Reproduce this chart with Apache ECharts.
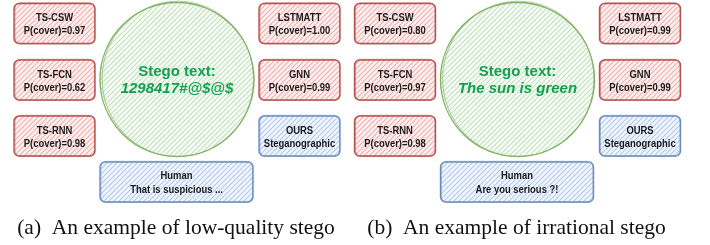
<!DOCTYPE html>
<html>
<head>
<meta charset="utf-8">
<script src="https://cdn.jsdelivr.net/npm/echarts@6/dist/echarts.min.js"></script>
<style>
  html, body { margin: 0; padding: 0; background: #fff; }
  #main { width: 710px; height: 245px; }
</style>
</head>
<body>
<div id="main"></div>
<script>
// data
const captions = ['(a)  An example of low-quality stego', '(b)  An example of irrational stego']
const stegoTexts = ['1298417#@$@$', 'The sun is green']
const baselineModels = ['TS-CSW', 'TS-FCN', 'TS-RNN', 'LSTMATT', 'GNN']
const pCoverLowQuality = [0.97, 0.62, 0.98, 1.00, 0.99]
const pCoverIrrational = [0.80, 0.97, 0.98, 0.99, 0.99]
const oursLabel = ['OURS', 'Steganographic']
const humanReplies = ['That is suspicious ...', 'Are you serious ?!']

// layout (axis units = px)
const panelX = [0, 340.5]
const colX = [54.5, 299.5]
const rowY = [23.5, 80, 136]
const boxW = 81
const boxH = 40
const circle = { x: 177, y: 79.5, r: 77 }
const human = { x: 176.5, y: 182, w: 153, h: 40 }
const captionX = 176
const captionY = 228

const boxFont = '"Liberation Sans", sans-serif'

function hatch(line, bg) {
  const c = document.createElement('canvas')
  c.width = 5
  c.height = 5
  const g = c.getContext('2d')
  g.fillStyle = bg
  g.fillRect(0, 0, 5, 5)
  g.strokeStyle = line
  g.lineWidth = 1.1
  g.beginPath()
  g.moveTo(-1, 6); g.lineTo(6, -1)
  g.moveTo(-1, 1); g.lineTo(1, -1)
  g.moveTo(4, 6); g.lineTo(6, 4)
  g.stroke()
  return { image: c, repeat: 'repeat' }
}

const tones = {
  red: { fill: hatch('#f0aeac', '#fdf1f1'), stroke: '#b85450' },
  blue: { fill: hatch('#b3c9ec', '#f1f6fd'), stroke: '#6c8ebf' },
  green: { fill: hatch('#c4e1c0', '#f7fbf6'), stroke: '#82b366' }
}

const nodes = []
;[pCoverLowQuality, pCoverIrrational].forEach((vals, p) => {
  const ox = panelX[p]
  baselineModels.forEach((name, i) => {
    const col = i < 3 ? 0 : 1
    const row = i < 3 ? i : i - 3
    nodes.push({ kind: 'box', tone: 'red', x: ox + colX[col], y: rowY[row], w: boxW, h: boxH, lh: 13,
      text: name + '\nP(cover)=' + vals[i].toFixed(2) })
  })
  nodes.push({ kind: 'box', tone: 'blue', x: ox + colX[1], y: rowY[2], w: boxW, h: boxH, lh: 13, text: oursLabel.join('\n') })
  nodes.push({ kind: 'circle', x: ox + circle.x, y: circle.y, r: circle.r, text: stegoTexts[p] })
  nodes.push({ kind: 'box', tone: 'blue', x: ox + human.x, y: human.y, w: human.w, h: human.h, lh: 14,
    text: 'Human\n' + humanReplies[p] })
  nodes.push({ kind: 'caption', x: ox + captionX, y: captionY, text: captions[p] })
})

function renderItem(params, api) {
  const n = nodes[api.value(2)]
  const c = api.coord([api.value(0), api.value(1)])
  if (n.kind === 'caption') {
    return {
      type: 'text',
      style: { text: n.text, x: c[0], y: c[1], align: 'center', verticalAlign: 'middle',
        font: '21.5px "Liberation Serif", "Times New Roman", serif', fill: '#111' }
    }
  }
  if (n.kind === 'circle') {
    const r = api.size([n.r, n.r])[0]
    const t = tones.green
    return {
      type: 'group',
      children: [
        { type: 'circle', shape: { cx: c[0], cy: c[1], r: r }, style: { fill: t.fill, stroke: t.stroke, lineWidth: 1.4 } },
        { type: 'ellipse', shape: { cx: c[0] + 0.8, cy: c[1] - 0.6, rx: r - 1.3, ry: r + 0.7 },
          style: { fill: null, stroke: t.stroke, lineWidth: 0.9, opacity: 0.75 } },
        { type: 'text', style: {
          x: c[0], y: c[1] + 1, align: 'center', verticalAlign: 'middle',
          text: '{a|Stego text:}\n{b|' + n.text + '}',
          rich: {
            a: { font: 'bold 15px "Liberation Sans", sans-serif', fill: '#14a04f', lineHeight: 17, align: 'center' },
            b: { font: 'italic bold 15px "Liberation Sans", sans-serif', fill: '#14a04f', lineHeight: 17, align: 'center' }
          }
        } }
      ]
    }
  }
  const s = api.size([n.w, n.h])
  const t = tones[n.tone]
  const x = c[0] - s[0] / 2
  const y = c[1] - s[1] / 2
  return {
    type: 'group',
    children: [
      { type: 'rect', shape: { x: x, y: y, width: s[0], height: s[1], r: 5 },
        style: { fill: t.fill, stroke: t.stroke, lineWidth: 1.4 } },
      { type: 'rect', shape: { x: x + 0.9, y: y - 0.7, width: s[0] - 1.4, height: s[1] + 1.1, r: 6 },
        style: { fill: null, stroke: t.stroke, lineWidth: 0.8, opacity: 0.7 } },
      // narrowed text, like the condensed hand font of the figure
      { type: 'text', x: c[0], y: c[1] + 1, scaleX: 0.82, style: {
        text: n.text, x: 0, y: 0, align: 'center', verticalAlign: 'middle',
        font: 'bold 11.5px ' + boxFont, fill: '#1b1b1b', lineHeight: n.lh
      } }
    ]
  }
}

const chart = echarts.init(document.getElementById('main'), null, { renderer: 'canvas' })
chart.setOption({
  animation: false,
  grid: { left: 0, right: 0, top: 0, bottom: 0 },
  xAxis: { type: 'value', min: 0, max: 710, show: false },
  yAxis: { type: 'value', min: 0, max: 245, inverse: true, show: false },
  series: [{
    type: 'custom',
    clip: false,
    renderItem: renderItem,
    data: nodes.map((n, i) => [n.x, n.y, i])
  }]
})
</script>
</body>
</html>
